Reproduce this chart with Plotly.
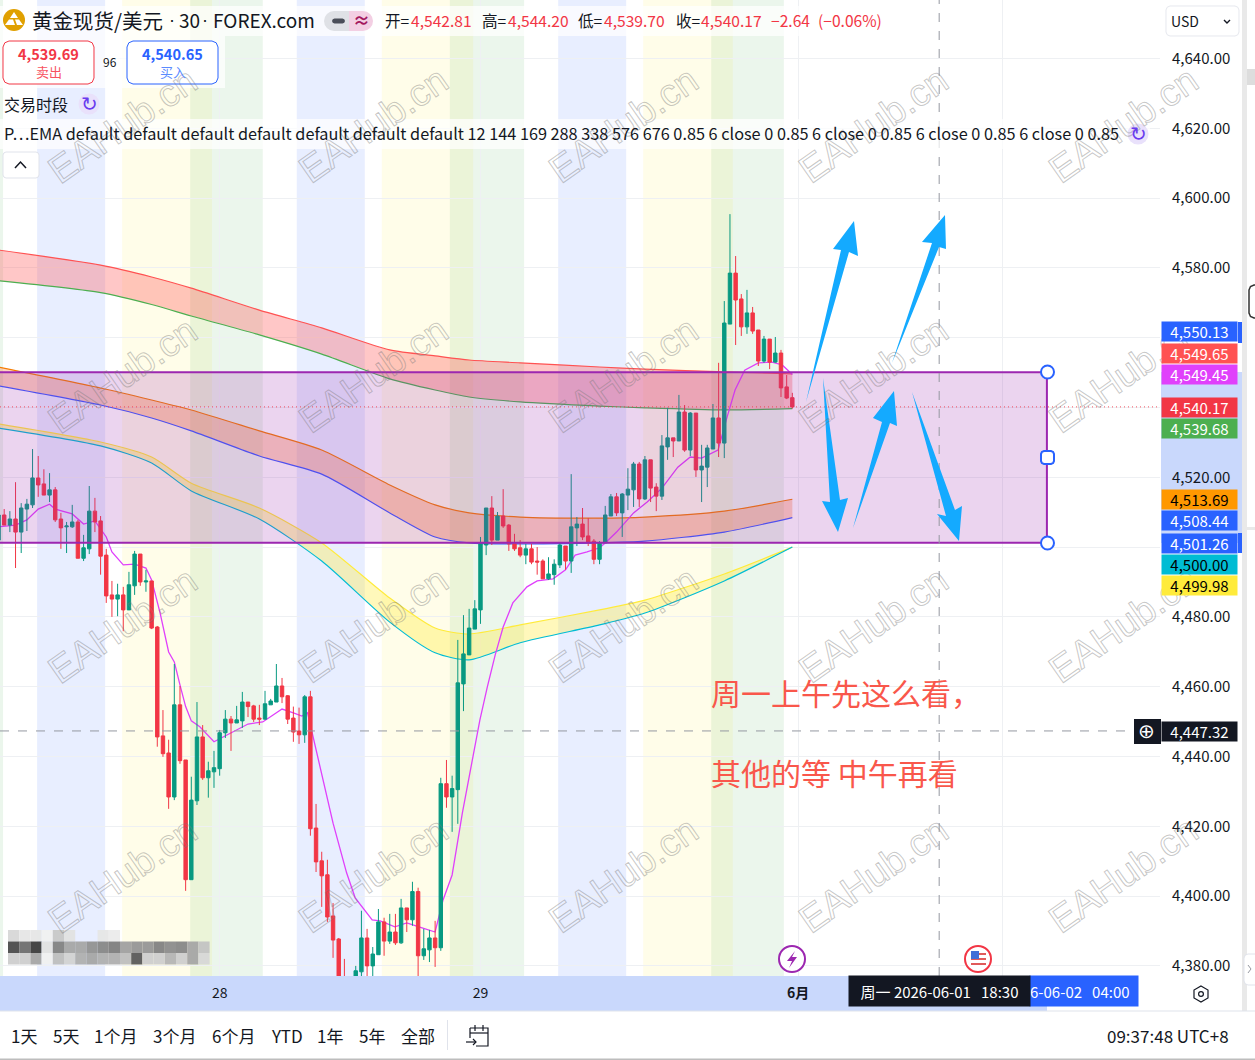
import plotly.graph_objects as go

W, H = 1255, 1060
FONT = "Noto Sans CJK SC, Noto Sans, DejaVu Sans, sans-serif"

# ---------- candle data, 30-minute bars ----------
opens = [4502.0,4509.2,4506.3,4508.05,4504.3,4510.9,4512.1,4519.8,4518.1,4514.9,4516.4,4508.05,4505.8,4505.8,4507.2,4496.8,4499.5,4510.3,4507.5,4497.7,
4486.3,4485.1,4486.3,4482.0,4488.9,4498.0,4490.0,4490.3,4477.1,4445.9,4441.0,4428.4,4454.8,4439.0,4404.7,4427.3,4445.6,4433.9,4435.6,4436.5,
4446.8,4450.7,4449.6,4450.2,4455.6,4454.5,4451.0,4450.7,4454.8,4455.6,4460.2,4457.4,4451.0,4447.3,4446.2,4457.1,4419.5,4410.1,4406.1,4394.3,
4387.7,4375.9,4374.5,4375.4,4378.3,4388.0,4380.0,4383.2,4392.6,4387.1,4389.7,4386.6,4396.6,4393.2,4401.3,4382.9,4384.6,4388.0,4385.2,4432.2,
4428.4,4430.5,4460.8,4469.1,4476.5,4482.0,4500.6,4511.2,4502.0,4508.9,4506.3,4500.9,4499.8,4497.7,4499.5,4496.0,4496.0,4490.9,4492.1,4494.9,
4500.3,4496.0,4505.5,4506.6,4503.2,4501.7,4496.5,4501.2,4508.9,4514.4,4509.8,4514.9,4516.4,4523.8,4513.8,4525.0,4517.2,4514.6,4528.7,4531.3,
4530.4,4538.7,4527.8,4538.4,4522.1,4522.9,4528.1,4537.0,4529.8,4563.9,4578.5,4571.1,4563.1,4567.1,4562.2,4553.3,4559.6,4553.0,4555.6,4545.9,4542.81]
highs = [4510.05,4510.9,4510.3,4518.6,4512.6,4513.8,4528.1,4526.1,4522.3,4521.2,4517.2,4509.8,4507.2,4512.1,4507.8,4503.5,4517.5,4514.1,4508.9,4499.5,
4490.3,4489.5,4488.6,4492.9,4498.9,4498.0,4493.5,4490.3,4477.4,4453.3,4444.8,4466.5,4460.2,4439.0,4434.2,4455.6,4449.0,4438.5,4441.6,4447.6,
4453.3,4451.6,4454.5,4458.5,4455.6,4454.8,4454.8,4458.8,4456.5,4466.5,4462.5,4457.6,4454.3,4454.0,4457.6,4458.8,4426.4,4412.7,4410.4,4398.0,
4388.0,4382.0,4376.5,4380.0,4395.8,4390.6,4385.4,4396.3,4393.8,4394.9,4394.9,4399.2,4396.6,4404.1,4402.4,4390.6,4390.3,4392.9,4433.9,4439.0,
4434.5,4473.4,4480.5,4482.3,4484.8,4502.9,4511.2,4514.6,4510.05,4516.6,4506.6,4503.8,4502.0,4500.9,4500.9,4500.0,4496.5,4497.1,4496.5,4501.2,
4500.3,4520.9,4508.6,4511.2,4508.3,4502.3,4501.7,4511.8,4515.2,4515.5,4515.5,4522.6,4524.4,4524.4,4526.1,4525.0,4518.3,4532.1,4539.9,4531.3,
4543.6,4540.7,4538.7,4538.4,4529.3,4529.3,4541.0,4552.8,4570.5,4595.4,4583.4,4572.5,4573.7,4568.8,4562.2,4560.5,4559.6,4560.2,4556.5,4549.3,4544.20]
lows = [4501.4,4506.3,4504.3,4494.0,4498.3,4504.6,4511.2,4514.4,4514.9,4512.9,4507.2,4499.5,4498.3,4505.5,4496.8,4496.0,4498.0,4504.3,4492.1,4484.0,
4480.0,4480.2,4475.9,4482.0,4486.3,4488.9,4487.2,4476.5,4442.8,4439.9,4425.0,4427.5,4437.9,4401.5,4404.7,4426.1,4433.3,4428.2,4431.0,4434.5,
4445.3,4441.6,4449.6,4448.2,4451.3,4449.9,4449.0,4450.5,4454.8,4455.6,4455.3,4449.3,4444.2,4443.6,4443.9,4417.3,4406.9,4396.9,4392.6,4382.3,
4372.5,4370.0,4370.0,4373.0,4374.5,4374.5,4375.9,4383.2,4382.9,4386.3,4386.0,4386.3,4389.7,4391.5,4377.1,4381.7,4381.1,4379.7,4384.3,4425.3,
4418.4,4420.7,4453.0,4469.1,4476.5,4478.0,4497.7,4500.6,4502.0,4505.5,4498.9,4498.9,4497.1,4495.1,4495.1,4492.1,4490.9,4490.6,4489.2,4494.0,
4493.5,4492.6,4500.3,4502.0,4500.3,4495.1,4495.1,4501.2,4508.9,4508.9,4502.9,4510.6,4511.5,4511.5,4513.5,4512.9,4510.3,4513.5,4525.0,4525.8,
4530.4,4527.3,4526.1,4520.1,4512.9,4517.2,4528.1,4525.8,4525.5,4563.9,4557.9,4560.5,4561.1,4561.1,4551.9,4552.8,4551.0,4552.8,4543.0,4542.4,4539.70]
closes = [4509.2,4506.3,4508.05,4504.3,4511.2,4512.3,4519.8,4517.8,4514.9,4516.4,4507.8,4505.5,4506.05,4507.2,4496.8,4499.8,4510.3,4507.2,4497.4,4486.0,
4485.1,4486.3,4482.0,4489.2,4498.0,4490.0,4490.3,4476.8,4445.6,4440.8,4428.4,4454.8,4438.8,4404.7,4427.5,4445.6,4433.9,4435.9,4436.8,4446.8,
4450.7,4449.6,4450.5,4455.6,4454.3,4450.7,4450.7,4455.1,4455.9,4460.2,4457.1,4450.7,4447.0,4446.2,4457.1,4419.3,4409.8,4405.8,4394.0,4387.4,
4374.5,4373.1,4371.7,4378.6,4388.0,4380.0,4383.4,4392.6,4387.1,4389.7,4386.6,4396.6,4393.2,4401.3,4382.9,4384.9,4388.0,4385.2,4432.2,4428.4,
4430.8,4461.1,4469.4,4476.8,4482.3,4500.9,4511.2,4502.0,4508.9,4506.05,4500.9,4499.5,4497.7,4499.5,4495.7,4495.7,4490.9,4492.3,4495.1,4500.6,
4496.0,4505.8,4506.6,4502.9,4501.2,4496.5,4501.2,4509.2,4514.4,4509.8,4515.2,4516.6,4523.8,4513.8,4525.0,4516.9,4514.6,4529.0,4531.3,4530.4,
4538.7,4527.8,4538.4,4522.1,4523.2,4528.4,4537.0,4529.8,4564.2,4578.5,4570.8,4563.1,4567.1,4561.9,4553.3,4559.6,4553.0,4555.6,4545.6,4542.7,4540.17]

# ---------- moving-average ribbons (sampled at these bar numbers) ----------
ema_bars = [0,18,27,34,46,57,69,77,83,92,106,114,128,140]
ema_red = [4585.1,4580.8,4577.4,4574.2,4567.9,4562.8,4556.5,4554.8,4553.6,4552.8,4551.6,4551.0,4550.2,4549.65]
ema_green = [4576.3,4572.9,4569.5,4566.2,4560.8,4555.3,4548.2,4545.0,4543.0,4541.6,4540.4,4539.9,4539.3,4539.68]
ema_orange = [4551.6,4545.6,4542.15,4539.3,4533.3,4527.8,4517.8,4512.1,4509.8,4508.6,4508.3,4508.6,4510.3,4513.69]
ema_blue = [4546.2,4540.7,4537.0,4533.3,4526.1,4520.9,4509.8,4502.9,4501.2,4500.9,4501.2,4501.7,4504.3,4508.44]
ema_yellow = [4535.3,4530.1,4525.8,4518.3,4511.2,4501.2,4485.4,4476.8,4475.1,4477.7,4482.0,4484.8,4492.3,4499.98]
ema_cyan = [4534.1,4529.0,4524.1,4516.1,4508.05,4496.0,4478.5,4469.7,4467.7,4472.6,4477.7,4481.1,4490.3,4500.00]

ema12_bars = [0,3,5,7,9,10,13,15,17,19,20,22,24,26,27,28.5,30,31,32,33,34,35.5,38,41,44,46.6,50,52,53.5,54.5,56.7,59,61.4,62.9,65.9,67.3,69.9,72,74.7,77,
78.4,80,81.8,83.5,84.9,86.2,87.6,89,90.7,93.2,95,97.8,100,101.7,103.8,106,107,109,112,114.4,117,119.8,122,124,126.9,128.5,129.9,131.6,134,136.4,138.2,140]
ema12 = [4505.8,4506.3,4507.8,4510.9,4512.3,4510.9,4509.5,4506.6,4507.5,4502.9,4498.6,4494.9,4495.1,4494.0,4490.6,4481.1,4469.95,4467.1,4460.5,4454.3,4450.2,4448.5,4444.2,4446.8,4449.3,4449.9,4453.6,4452.5,4451.6,4452.5,4437.0,4420.9,4406.6,4399.5,4393.2,4392.9,4391.2,4392.3,4390.9,4389.7,
4398.9,4406.05,4423.8,4438.2,4450.5,4459.9,4469.1,4477.1,4484.0,4488.6,4490.3,4490.9,4493.5,4497.7,4498.6,4499.8,4501.2,4504.3,4509.8,4512.9,4516.9,4522.9,4525.8,4525.5,4527.8,4537.3,4545.0,4550.7,4552.8,4553.0,4552.2,4549.45]

# ---------- sessions (bar-number ranges) ----------
sess_blue = [(6.8,18.8),(52.6,64.6),(98.7,110.7)]
sess_yellow = [(21.8,37.65),(67.6,83.7),(113.7,129.5)]
sess_green = [(-2,0.8),(33.8,46.6),(79.6,92.7),(125.7,138.5)]

# ---------- drawn range + crosshair ----------
range_top, range_bottom, range_end_bar = 4550.13, 4501.26, 184.9
last_price, cross_price, cross_bar = 4540.17, 4447.32, 165.9

# ---------- axis labels ----------
price_ticks = [4640,4620,4600,4580,4560,4540,4520,4500,4480,4460,4440,4420,4400,4380]
covered_ticks = [4560,4540,4500]   # sit behind the price badges in the reference
time_tick_bars = [39,85,141,177]
time_tick_text = ["28","29","<b>6月</b>",""]

badge_text = ["4,550.13","4,549.65","4,549.45","4,540.17","4,539.68","4,513.69","4,508.44","4,501.26","4,500.00","4,499.98","4,447.32"]
badge_color = ["#2962FF","#FF5252","#E040FB","#F23645","#4CAF50","#FF9800","#2962FF","#2962FF","#00BCD4","#FFEB3B","#131722"]
badge_ink = ["white","white","white","white","white","black","white","white","black","black","white"]
badge_mid = [332,353,374,407,428,499,520,543,564,585,731]

range_buttons = ["1天","5天","1个月","3个月","6个月","YTD","1年","5年","全部"]
range_button_x = [10,52,93,152,211,270,316,358,400]

indicator_line = ("P…EMA default default default default default default default 12 144 169 288 338 576 676 "
                  "0.85 6 close 0 0.85 6 close 0 0.85 6 close 0 0.85 6 close 0 0.85")

mosaic_top = [215,230,230,240,200,225,None,None,230,235]
mosaic_mid = [75,110,60,225,130,165,165,145,135,125,160,150,150,130,140,135,165,195]
mosaic_low = [205,205,165,240,190,210,175,165,175,175,190,90,205,205,180,205,165,215]

# ---------- helpers ----------
def X(px): return px / W
def Y(py): return 1 - py / H

shapes, notes = [], []

def rect(x0, y0, x1, y1, fill=None, line=None, lw=1, layer="above"):
    shapes.append(dict(type="rect", xref="paper", yref="paper", x0=X(x0), x1=X(x1), y0=Y(y0), y1=Y(y1),
                       fillcolor=fill or "rgba(0,0,0,0)", line=dict(color=line or "rgba(0,0,0,0)", width=lw if line else 0), layer=layer))

def circle(cx, cy, r, fill="white", line=None, lw=1):
    shapes.append(dict(type="circle", xref="paper", yref="paper", x0=X(cx-r), x1=X(cx+r), y0=Y(cy-r), y1=Y(cy+r),
                       fillcolor=fill, line=dict(color=line or "rgba(0,0,0,0)", width=lw if line else 0), layer="above"))

def poly(pts, fill=None, line=None, lw=1, close=True):
    d = "M" + " L".join(f"{X(a):.5f},{Y(b):.5f}" for a, b in pts) + (" Z" if close else "")
    shapes.append(dict(type="path", xref="paper", yref="paper", path=d, fillcolor=fill or "rgba(0,0,0,0)",
                       line=dict(color=line or "rgba(0,0,0,0)", width=lw if line else 0), layer="above"))

def rrect(x0, y0, x1, y1, r, fill=None, line=None, lw=1):
    k = 0.7
    pts = [(x0,y0+r),(x0+r*(1-k),y0+r*(1-k)),(x0+r,y0),
           (x1-r,y0),(x1-r*(1-k),y0+r*(1-k)),(x1,y0+r),
           (x1,y1-r),(x1-r*(1-k),y1-r*(1-k)),(x1-r,y1),
           (x0+r,y1),(x0+r*(1-k),y1-r*(1-k)),(x0,y1-r)]
    poly(pts, fill, line, lw)

def text(px, py, s, size=14, color="#131722", anchor="left", family=FONT):
    notes.append(dict(xref="paper", yref="paper", x=X(px), y=Y(py-1), text=s, showarrow=False, xanchor=anchor,
                      yanchor="middle", font=dict(family=family, size=size, color=color), borderpad=0))

# ---------- figure ----------
fig = go.Figure()
line_w = 1.15
pairs = [(ema_red,ema_green,"#FF5252","#4CAF50","rgba(255,82,82,0.32)"),
         (ema_orange,ema_blue,"#F57C00","#3D5AFE","rgba(255,112,40,0.30)"),
         (ema_yellow,ema_cyan,"#FFEB3B","#00BCD4","rgba(255,235,59,0.35)")]
spl = dict(shape="spline", smoothing=0.7)
for hi, lo, c1, c2, fc in pairs:
    fig.add_trace(go.Scatter(x=ema_bars, y=hi, mode="lines", line=dict(color=c1, width=line_w, **spl), showlegend=False, hoverinfo="skip"))
    fig.add_trace(go.Scatter(x=ema_bars, y=lo, mode="lines", line=dict(color=c2, width=line_w, **spl), fill="tonexty",
                             fillcolor=fc, showlegend=False, hoverinfo="skip"))
fig.add_trace(go.Scatter(x=ema12_bars, y=ema12, mode="lines", line=dict(color="#E040FB", width=1.3), showlegend=False, hoverinfo="skip"))
fig.add_trace(go.Candlestick(x=list(range(len(opens))), open=opens, high=highs, low=lows, close=closes,
                             xaxis="x2", yaxis="y2", whiskerwidth=0, showlegend=False, hoverinfo="skip",
                             increasing=dict(line=dict(color="#089981", width=1), fillcolor="#089981"),
                             decreasing=dict(line=dict(color="#F23645", width=1), fillcolor="#F23645")))

# session bands behind everything
for spans, col in [(sess_blue,"rgba(41,98,255,0.11)"),(sess_yellow,"rgba(255,235,59,0.11)"),(sess_green,"rgba(76,175,80,0.11)")]:
    for a, b in spans:
        shapes.append(dict(type="rect", xref="x", yref="paper", x0=a, x1=b, y0=Y(976), y1=1, fillcolor=col, line=dict(width=0), layer="below"))

# axis strips
rect(0, 976, 1047, 1011, fill="#C9D8FC", layer="below")
rect(1161, 372, 1242, 543, fill="#C9D8FC", layer="below")

# drawn range
shapes.append(dict(type="rect", xref="x", yref="y", x0=-5, x1=range_end_bar, y0=range_bottom, y1=range_top,
                   fillcolor="rgba(156,39,176,0.2)", line=dict(color="#9C27B0", width=2), layer="above"))
# price / crosshair lines
shapes.append(dict(type="line", xref="paper", yref="y", x0=0, x1=X(1160), y0=last_price, y1=last_price,
                   line=dict(color="rgba(242,54,69,0.85)", width=1, dash="1px,3px"), layer="above"))
shapes.append(dict(type="line", xref="paper", yref="y", x0=0, x1=X(1134), y0=cross_price, y1=cross_price, line=dict(color="#9598A1", width=1, dash="dash"), layer="above"))
shapes.append(dict(type="line", xref="x", yref="paper", x0=cross_bar, x1=cross_bar, y0=Y(976), y1=1, line=dict(color="#9598A1", width=1, dash="dash"), layer="above"))

# legend backing panels
rect(0, 6, 882, 36, fill="rgba(255,255,255,0.72)")
rect(0, 36, 225, 88, fill="rgba(255,255,255,0.72)")
rect(0, 119, 1150, 149, fill="rgba(255,255,255,0.72)")

# arrows
for pts in [
    [(806,402),(841,250),(833,249),(854,221),(858,256),(849,252)],
    [(892,363),(932,243),(922,242),(945,215),(946,249),(939,247)],
    [(823,378),(830,502),(822,501),(838,532),(848,498),(840,500)],
    [(853,528),(882,422),(873,418),(894,391),(897,426),(890,423)],
    [(912,392),(946,516),(937,514),(959,541),(962,506),(955,510)]]:
    poly(pts, fill="#14AAFF")

# range handles
circle(1047.5, 372, 6.5, line="#2962FF", lw=2)
circle(1047.5, 543, 6.5, line="#2962FF", lw=2)
rrect(1041, 451, 1054, 464, 3, fill="white", line="#2962FF", lw=2)

# mosaic smear
cell = 11.2
for vals, ytop in [(mosaic_top,930),(mosaic_mid,941.5),(mosaic_low,953)]:
    for i, v in enumerate(vals):
        if v is not None:
            rect(8+i*cell, ytop, 8+(i+1)*cell, ytop+11.5, fill=f"rgba({v},{v},{v},0.95)")

# event icons
circle(792, 959, 13, fill="white", line="#9C27B0", lw=2)
poly([(795,951),(787,961),(792,961),(789,968),(797,957),(792,957)], fill="#9C27B0")
circle(978, 959, 13, fill="white", line="#F23645", lw=2)
rect(971, 953, 986, 955, fill="#E05A5A"); rect(971, 958, 986, 960, fill="#E05A5A"); rect(971, 963, 986, 965, fill="#E05A5A")
rect(971, 951, 979, 959, fill="#3F6FD8")

# right rail
rect(1242, 0, 1247, 1011, fill="#E9E9E9")
rect(1247, 69, 1255, 85, fill="#DDDDDD")
rect(1247, 527, 1255, 530, fill="#E9E9E9")
rrect(1249, 285, 1262, 318, 5, fill="white", line="#333333", lw=1.5)
rrect(1244, 954, 1262, 985, 4, fill="white", line="#E0E3EB", lw=1)
poly([(1248,965),(1251,969),(1248,973)], line="#9598A1", lw=1, close=False)

# USD box
rrect(1166, 6, 1239, 36, 4, fill="white", line="#E6E8EE", lw=1)
poly([(1224,20),(1227,23),(1230,20)], line="#131722", lw=1.4, close=False)

# top-left widgets
circle(14, 20, 11, fill="#E0A000")
poly([(14,12),(18,18),(10,18)], fill="white"); poly([(9,19.5),(13,19.5),(15,25),(5,25)], fill="white"); poly([(15,19.5),(19,19.5),(23,25),(17,25)], fill="white")
circle(334, 21, 10, fill="#DFE1E6"); circle(363, 21, 10, fill="#F3CFE3")
rect(334, 11, 349, 31, fill="#DFE1E6")
rect(349, 11, 363, 31, fill="#F3CFE3")
rrect(332, 18.5, 345, 23.5, 2.5, fill="#4A4E59")
rrect(3, 41, 94, 84, 6, fill="white", line="#F23645", lw=1)
rrect(127, 41, 218, 84, 6, fill="white", line="#2962FF", lw=1)
circle(89, 104, 10.5, fill="#E9E1FB"); circle(1138, 134, 10.5, fill="#E9E1FB")
rrect(3, 152, 39, 178, 3, fill="white", line="#E0E3EB")
poly([(15,168),(20.5,162),(26,168)], line="#131722", lw=1.5, close=False)

# strip rules
rect(0, 1010.5, 1255, 1011.5, fill="#E0E3EB")
rect(0, 1058.5, 1255, 1060, fill="#BDBDBD")
rect(447, 1020, 448, 1050, fill="#E0E3EB")

# settings hexagon
poly([(1201,986),(1208,990),(1208,998),(1201,1002),(1194,998),(1194,990)], line="#131722", lw=1.2)
circle(1201, 994, 2.4, fill="white", line="#131722", lw=1.2)

# calendar icon
poly([(470,1028),(488,1028),(488,1046),(476,1046)], line="#131722", lw=1.2, close=False)
poly([(470,1028),(470,1038)], line="#131722", lw=1.2, close=False)
poly([(470,1033),(488,1033)], line="#131722", lw=1.2, close=False)
poly([(475,1025),(475,1031)], line="#131722", lw=1.2, close=False)
poly([(483,1025),(483,1031)], line="#131722", lw=1.2, close=False)
poly([(466,1042),(476,1042)], line="#131722", lw=1.2, close=False)
poly([(473,1039),(476,1042),(473,1045)], line="#131722", lw=1.2, close=False)

# dark crosshair tag
rect(1134, 719, 1161, 744, fill="#131722")

# ---------- watermark (outlined by the page script below) ----------
for cy in [125,375,625,875]:
    for cx in [123,373,623,873,1123]:
        notes.append(dict(xref="paper", yref="paper", x=X(cx), y=Y(cy), text="EAHub.cn", textangle=-35, showarrow=False,
                          xanchor="center", yanchor="middle",
                          font=dict(family="Liberation Sans", size=38, color="rgba(150,150,150,0.25)")))

# ---------- legend text ----------
RED = "#F23645"
text(31, 21, "黄金现货/美元", size=20.5)
text(172, 21, "·", size=18, anchor="center", family="Liberation Sans")
text(178, 21, "30", size=19)
text(205, 21, "·", size=18, anchor="center", family="Liberation Sans")
text(212, 21, "FOREX.com", size=19)
text(361, 21, "<b>≈</b>", size=17, color="#A3185F", anchor="center")
for px, s, c in [(384,"开=","#131722"),(410,"4,542.81",RED),(481,"高=","#131722"),(507,"4,544.20",RED),(577,"低=","#131722"),
                 (603,"4,539.70",RED),(675,"收=","#131722"),(700,"4,540.17",RED),(770,"−2.64",RED),(817,"(−0.06%)",RED)]:
    text(px, 21, s, size=15.6, color=c)
text(48.5, 54, "<b>4,539.69</b>", size=14.5, color=RED, anchor="center")
text(48.5, 72.5, "卖出", size=13, color="#F7525F", anchor="center")
text(110, 62, "96", size=12, anchor="center")
text(172.5, 54, "<b>4,540.65</b>", size=14.5, color="#2962FF", anchor="center")
text(172.5, 72.5, "买入", size=13, color="#5B8BFF", anchor="center")
text(3, 105, "交易时段", size=16)
text(89, 105, "↻", size=20, color="#6A3BEF", anchor="center", family="DejaVu Sans")
text(1138, 135, "↻", size=20, color="#6A3BEF", anchor="center", family="DejaVu Sans")
text(3, 134, indicator_line, size=16.25)
text(1170, 22, "USD", size=14)

# hand-written note
text(710, 693, "周一上午先这么看，", size=30, color="#F9574B")
text(710, 773, "其他的等 中午再看", size=30, color="#F9574B")

# price badges
for s, c, ink, mid in zip(badge_text, badge_color, badge_ink, badge_mid):
    notes.append(dict(xref="paper", yref="paper", x=X(1161), y=Y(mid), text=s, showarrow=False, xanchor="left", yanchor="middle",
                      width=75, height=19, align="center", valign="middle", bgcolor=c, borderpad=0,
                      font=dict(family=FONT, size=15, color=ink)))
rect(1238, 322, 1242, 343, fill="#2962FF")
rect(1238, 533, 1242, 553, fill="#2962FF")
notes.append(dict(xref="paper", yref="paper", x=X(1146.5), y=Y(731), text="⊕", showarrow=False, xanchor="center", yanchor="middle",
                  font=dict(family="DejaVu Sans", size=20, color="white")))

# time badges (the left one covers the start of the right one in the reference)
notes.append(dict(xref="paper", yref="paper", x=X(1029), y=Y(991), text="6-06-02&nbsp;&nbsp;&nbsp;04:00", showarrow=False, xanchor="left", yanchor="middle",
                  width=108, height=30, align="left", valign="middle", bgcolor="#2962FF", borderpad=0,
                  font=dict(family=FONT, size=15, color="white")))
notes.append(dict(xref="paper", yref="paper", x=X(848), y=Y(991), text="周一 2026-06-01&nbsp;&nbsp;&nbsp;18:30", showarrow=False, xanchor="left", yanchor="middle",
                  width=181, height=30, align="center", valign="middle", bgcolor="#131722", borderpad=0,
                  font=dict(family=FONT, size=15, color="white")))

# bottom toolbar
for s, px in zip(range_buttons, range_button_x):
    text(px, 1036, s, size=17)
text(1106, 1036, "09:37:48 UTC+8", size=17)

# ---------- axes ----------
x_range = [(0+1.47)/5.67, (1160+1.47)/5.67]
y_range = [4377.1, 4656.76]
domain_x = [0, 1160/W]
domain_y = [Y(976), 1]
grid = "#EEF0F3"
fig.update_layout(
    width=W, height=H, margin=dict(l=0, r=0, t=0, b=0), autosize=False,
    paper_bgcolor="white", plot_bgcolor="rgba(0,0,0,0)", showlegend=False, hovermode=False,
    font=dict(family=FONT, size=14, color="#131722"),
    xaxis=dict(domain=domain_x, range=x_range, fixedrange=True, showgrid=True, gridcolor=grid, gridwidth=1, zeroline=False,
               tickmode="array", tickvals=time_tick_bars, ticktext=time_tick_text, ticks="outside", ticklen=4,
               tickcolor="rgba(0,0,0,0)", tickfont=dict(family=FONT, size=14, color="#131722"), showline=False,
               rangeslider=dict(visible=False), anchor="y"),
    yaxis=dict(domain=domain_y, range=y_range, fixedrange=True, side="right", showgrid=True, gridcolor=grid, gridwidth=1, zeroline=False,
               tickmode="array", tickvals=price_ticks,
               ticktext=["" if v in covered_ticks else f"{v:,.2f}" for v in price_ticks], ticks="outside", ticklen=8,
               tickcolor="rgba(0,0,0,0)", tickfont=dict(family=FONT, size=15, color="#131722"), showline=False, anchor="x"),
    xaxis2=dict(domain=domain_x, range=x_range, overlaying="x", visible=False, fixedrange=True, rangeslider=dict(visible=False), anchor="y2"),
    yaxis2=dict(domain=domain_y, range=y_range, overlaying="y", visible=False, fixedrange=True, anchor="x2"),
    boxgap=0.14,
    shapes=shapes, annotations=notes,
)
page_script = """
document.body.style.margin='0';
document.documentElement.style.overflow='hidden';
document.querySelectorAll('text.annotation-text').forEach(function(t){
  if(t.textContent==='EAHub.cn'){
    t.style.fill='none';
    t.style.stroke='rgba(120,120,120,0.42)';
    t.style.strokeWidth='1px';
  }
});
"""
fig.write_html("out.html", config=dict(displayModeBar=False), post_script=page_script)
